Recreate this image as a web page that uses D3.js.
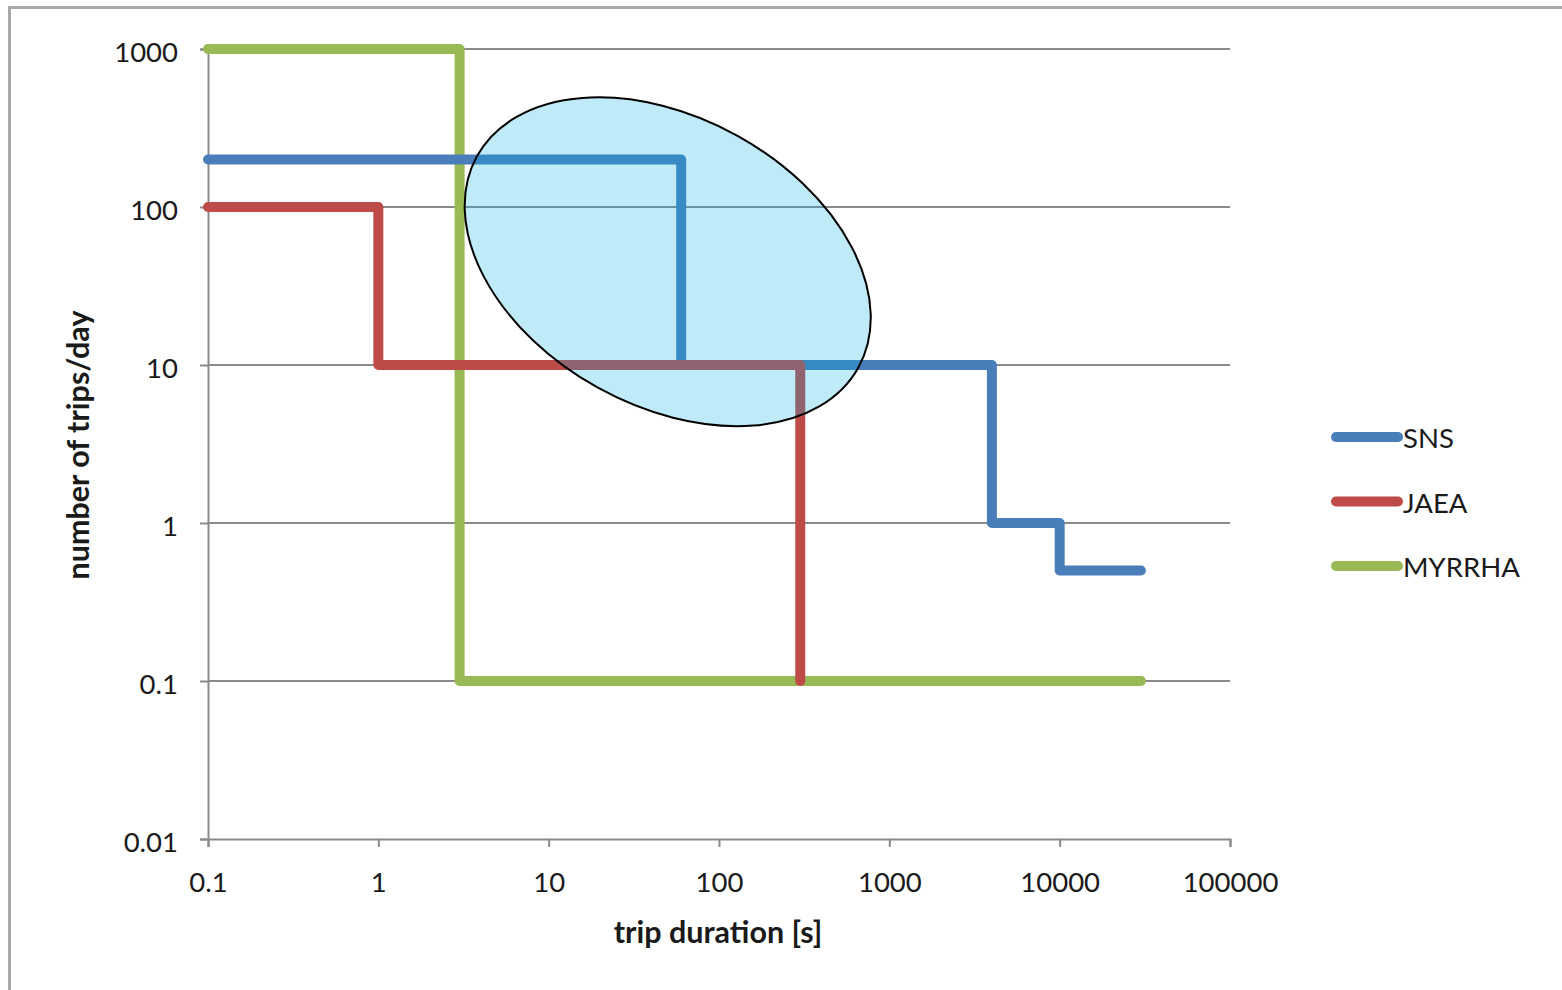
<!DOCTYPE html>
<html>
<head>
<meta charset="utf-8">
<script src="https://cdn.jsdelivr.net/npm/d3@7"></script>
<style>
  body { margin: 0; background: #fff; }
  svg text { font-family: Lato, "Open Sans", sans-serif; fill: #1a1a1a; }
</style>
</head>
<body>
<div id="chart"></div>
<script>
const xTicks = [0.1, 1, 10, 100, 1000, 10000, 100000];
const yTicks = [0.01, 0.1, 1, 10, 100, 1000];

const seriesNames = ["SNS", "JAEA", "MYRRHA"];
// step start points: duration [s] -> trips/day
const snsX = [0.1, 60, 4000, 10000, 30000];
const snsY = [200, 10, 1, 0.5, 0.5];
const jaeaX = [0.1, 1, 300];
const jaeaY = [100, 10, 0.1];
const myrrhaX = [0.1, 3, 30000];
const myrrhaY = [1000, 0.1, 0.1];

// highlighted region (centre in data units)
const ellipseCenter = [50, 45];

const theme = {
  SNS: "#4a7ebb",
  JAEA: "#be4b48",
  MYRRHA: "#98b954",
  grid: "#8a8a8a",
};

const width = 1562, height = 990;
const svg = d3.select("#chart").append("svg")
  .attr("width", width).attr("height", height);

// outer frame (cut by the window on right/bottom)
svg.append("rect")
  .attr("x", 9.5).attr("y", 7.5)
  .attr("width", 1600).attr("height", 1100)
  .attr("fill", "none").attr("stroke", "#a9a9a9").attr("stroke-width", 3);

const x = d3.scaleLog().domain([0.1, 100000]).range([208, 1230]);
const y = d3.scaleLog().domain([0.01, 1000]).range([839, 49]);

// gridlines
svg.append("g")
  .selectAll("line")
  .data(yTicks.slice(1))
  .enter().append("line")
  .attr("x1", x(0.1)).attr("x2", x(100000))
  .attr("y1", d => y(d)).attr("y2", d => y(d))
  .attr("stroke", theme.grid).attr("stroke-width", 2);

const fmt = d => String(d);

const yAxis = svg.append("g")
  .attr("transform", `translate(${x(0.1)},0)`)
  .call(d3.axisLeft(y).tickValues(yTicks).tickFormat(fmt).tickSize(8).tickPadding(22));
const xAxis = svg.append("g")
  .attr("transform", `translate(0,${y(0.01)})`)
  .call(d3.axisBottom(x).tickValues(xTicks).tickFormat(fmt).tickSize(8).tickPadding(31));

[xAxis, yAxis].forEach(g => {
  g.select(".domain").attr("stroke", theme.grid).attr("stroke-width", 2);
  g.selectAll(".tick line").attr("stroke", theme.grid).attr("stroke-width", 2);
  g.selectAll(".tick text").style("font-size", "27.5px").attr("fill", "#1a1a1a")
    .style("font-family", "Lato, 'Open Sans', sans-serif");
});
yAxis.selectAll(".tick text").attr("dy", "0.45em");
xAxis.selectAll(".tick text").attr("dy", "0.5em");

// axis titles
svg.append("text")
  .attr("x", 718).attr("y", 943)
  .attr("text-anchor", "middle")
  .style("font-size", "30.5px").style("font-weight", "bold")
  .text("trip duration [s]");
svg.append("text")
  .attr("transform", "translate(89,445) rotate(-90)")
  .attr("text-anchor", "middle")
  .style("font-size", "30.5px").style("font-weight", "bold")
  .text("number of trips/day");

const series = [
  { name: "SNS", xs: snsX, ys: snsY },
  { name: "JAEA", xs: jaeaX, ys: jaeaY },
  { name: "MYRRHA", xs: myrrhaX, ys: myrrhaY },
];

const line = d3.line()
  .x(d => x(d[0])).y(d => y(d[1]))
  .curve(d3.curveStepAfter);

// draw order so that SNS sits over MYRRHA and JAEA over SNS
const drawOrder = ["MYRRHA", "SNS", "JAEA"];
svg.append("g")
  .selectAll("path")
  .data(drawOrder.map(n => series.find(s => s.name === n)))
  .enter().append("path")
  .attr("d", s => line(d3.zip(s.xs, s.ys)))
  .attr("fill", "none")
  .attr("stroke", s => theme[s.name])
  .attr("stroke-width", 10)
  .attr("stroke-linejoin", "round")
  .attr("stroke-linecap", "round");

// annotation ellipse
svg.append("ellipse")
  .attr("transform", `translate(${x(ellipseCenter[0])},${y(ellipseCenter[1])}) rotate(29)`)
  .attr("rx", 218).attr("ry", 144)
  .attr("fill", "rgb(9,173,227)").attr("fill-opacity", 0.26)
  .attr("stroke", "#000").attr("stroke-width", 2);

// legend
const legend = svg.append("g")
  .selectAll("g")
  .data(seriesNames)
  .enter().append("g")
  .attr("transform", (d, i) => `translate(1336,${437 + i * 64.5})`);
legend.append("line")
  .attr("x1", 0).attr("x2", 62)
  .attr("stroke", d => theme[d]).attr("stroke-width", 10)
  .attr("stroke-linecap", "round");
legend.append("text")
  .attr("x", 67).attr("y", 0).attr("dy", "0.4em")
  .style("font-size", "27.5px")
  .text(d => d);
</script>
</body>
</html>
